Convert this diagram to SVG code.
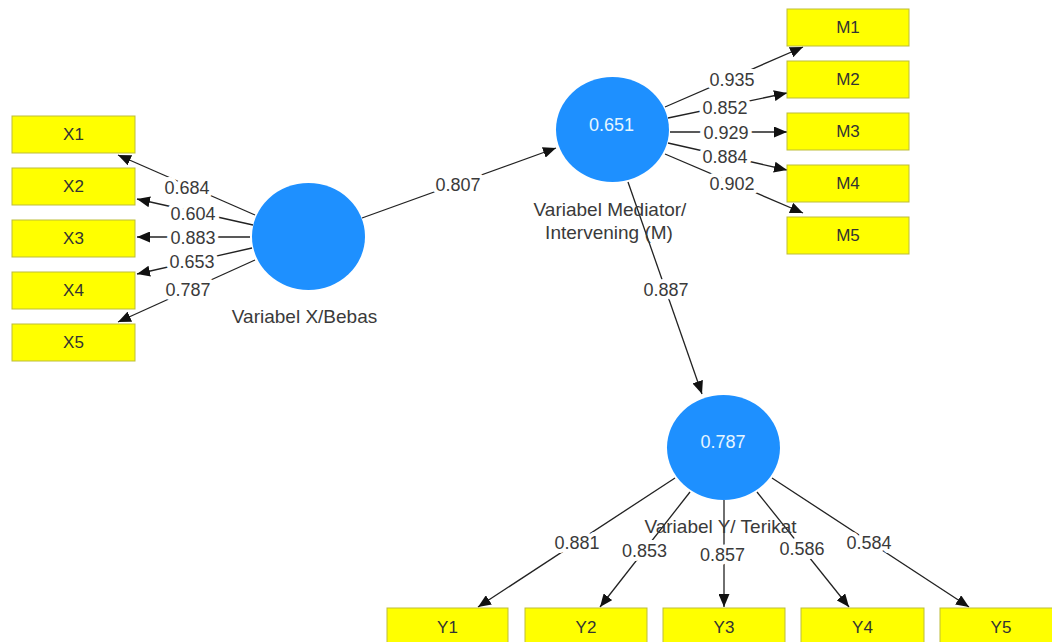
<svg xmlns="http://www.w3.org/2000/svg" width="1052" height="642" viewBox="0 0 1052 642">
<style>
.box{fill:#ffff00;stroke:#bdbd3a;stroke-width:1}
.lv{fill:#1e90ff}
.t{font-family:"Liberation Sans",Arial,sans-serif;font-size:17px;fill:#333;text-anchor:middle}
.ct{font-family:"Liberation Sans",Arial,sans-serif;font-size:18px;fill:#e6f6ff;text-anchor:middle}
.el{font-family:"Liberation Sans",Arial,sans-serif;font-size:18px;fill:#3a3a3a;text-anchor:middle;stroke:#fff;stroke-width:8;paint-order:stroke;stroke-linejoin:round}
.nl{font-family:"Liberation Sans",Arial,sans-serif;font-size:19px;fill:#3a3a3a;text-anchor:middle}
.e{stroke:#222;stroke-width:1.3;fill:none;marker-end:url(#ah)}
</style>
<defs>
<marker id="ah" markerUnits="userSpaceOnUse" markerWidth="13" markerHeight="11" refX="13" refY="5.5" orient="auto">
<path d="M0,0 L13,5.5 L0,11 z" fill="#111"/>
</marker>
</defs>
<rect width="1052" height="642" fill="#fff"/>
<g id="connectors">
<line class="e" x1="255" y1="215" x2="118" y2="155"/>
<line class="e" x1="253" y1="225" x2="137" y2="199"/>
<line class="e" x1="250" y1="237" x2="137" y2="237"/>
<line class="e" x1="252" y1="248" x2="137" y2="274"/>
<line class="e" x1="255" y1="260" x2="118" y2="322"/>
<line class="e" x1="362" y1="218" x2="556" y2="148"/>
<line class="e" x1="665" y1="107" x2="803" y2="47"/>
<line class="e" x1="668" y1="118" x2="787" y2="93"/>
<line class="e" x1="670" y1="132" x2="787" y2="132"/>
<line class="e" x1="668" y1="143" x2="787" y2="170"/>
<line class="e" x1="665" y1="154" x2="803" y2="213"/>
<line class="e" x1="628" y1="182" x2="702" y2="394"/>
<line class="e" x1="675" y1="478" x2="478" y2="607"/>
<line class="e" x1="690" y1="492" x2="600" y2="607"/>
<line class="e" x1="724" y1="500" x2="724" y2="607"/>
<line class="e" x1="757" y1="492" x2="849" y2="607"/>
<line class="e" x1="772" y1="478" x2="969" y2="607"/>
<text class="el" x="187" y="194">0.684</text>
<text class="el" x="193" y="220">0.604</text>
<text class="el" x="193" y="244">0.883</text>
<text class="el" x="192" y="268">0.653</text>
<text class="el" x="188" y="296">0.787</text>
<text class="el" x="458" y="191">0.807</text>
<text class="el" x="732" y="86">0.935</text>
<text class="el" x="725" y="114">0.852</text>
<text class="el" x="726" y="139">0.929</text>
<text class="el" x="725" y="163">0.884</text>
<text class="el" x="732" y="190">0.902</text>
<text class="el" x="666" y="296">0.887</text>
<text class="el" x="577" y="549">0.881</text>
<text class="el" x="644.5" y="557">0.853</text>
<text class="el" x="722.5" y="561">0.857</text>
<text class="el" x="802" y="555">0.586</text>
<text class="el" x="869" y="549">0.584</text>
</g>
<g id="X">
<ellipse class="lv" cx="308.5" cy="236.5" rx="56.5" ry="53.5"/>
<text class="nl" x="304.5" y="323">Variabel X/Bebas</text>
</g>
<g id="M">
<ellipse class="lv" cx="612.5" cy="129.5" rx="56.5" ry="52.5"/>
<text class="ct" x="611.5" y="131">0.651</text>
<text class="nl" x="610" y="216">Variabel Mediator/</text>
<text class="nl" x="609" y="239">Intervening (M)</text>
</g>
<g id="Y">
<ellipse class="lv" cx="723.5" cy="447.5" rx="56.5" ry="52.5"/>
<text class="ct" x="723" y="448">0.787</text>
<text class="nl" x="720.5" y="533">Variabel Y/ Terikat</text>
</g>
<g id="X1"><rect class="box" x="12" y="116" width="123" height="37"/><text class="t" x="73.5" y="140">X1</text></g>
<g id="X2"><rect class="box" x="12" y="168" width="123" height="37"/><text class="t" x="73.5" y="192">X2</text></g>
<g id="X3"><rect class="box" x="12" y="220" width="123" height="37"/><text class="t" x="73.5" y="244">X3</text></g>
<g id="X4"><rect class="box" x="12" y="272" width="123" height="37"/><text class="t" x="73.5" y="296">X4</text></g>
<g id="X5"><rect class="box" x="12" y="324" width="123" height="37"/><text class="t" x="73.5" y="348">X5</text></g>
<g id="M1"><rect class="box" x="787" y="9" width="122" height="37"/><text class="t" x="848" y="33">M1</text></g>
<g id="M2"><rect class="box" x="787" y="61" width="122" height="37"/><text class="t" x="848" y="85">M2</text></g>
<g id="M3"><rect class="box" x="787" y="113" width="122" height="37"/><text class="t" x="848" y="137">M3</text></g>
<g id="M4"><rect class="box" x="787" y="165" width="122" height="37"/><text class="t" x="848" y="189">M4</text></g>
<g id="M5"><rect class="box" x="787" y="217" width="122" height="37"/><text class="t" x="848" y="241">M5</text></g>
<g id="Y1"><rect class="box" x="387" y="608" width="121" height="37"/><text class="t" x="447.5" y="633">Y1</text></g>
<g id="Y2"><rect class="box" x="525" y="608" width="122" height="37"/><text class="t" x="586" y="633">Y2</text></g>
<g id="Y3"><rect class="box" x="663" y="608" width="122" height="37"/><text class="t" x="724" y="633">Y3</text></g>
<g id="Y4"><rect class="box" x="801" y="608" width="123" height="37"/><text class="t" x="862.5" y="633">Y4</text></g>
<g id="Y5"><rect class="box" x="940" y="608" width="122" height="37"/><text class="t" x="1001" y="633">Y5</text></g>
</svg>
